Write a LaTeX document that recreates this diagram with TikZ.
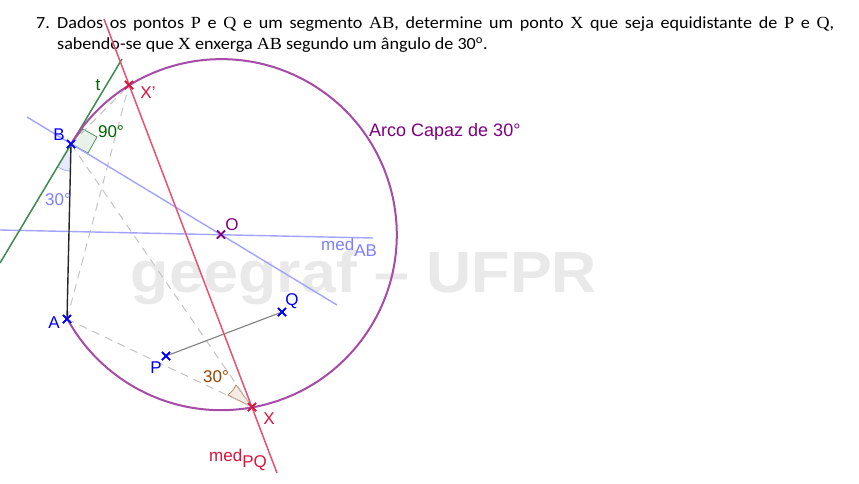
\documentclass[tikz,border=0pt]{standalone}
\usepackage{fontspec}
\setmainfont{Liberation Sans}
\newfontfamily\titlefont{Carlito}
\newfontfamily\mathserif{Liberation Serif}
\usetikzlibrary{shapes.misc}
\definecolor{redline}{HTML}{E9526F}
\definecolor{redmark}{HTML}{DC143C}
\definecolor{purplearc}{HTML}{A64CA6}
\definecolor{purplemark}{HTML}{800080}
\definecolor{greenline}{HTML}{3E8A4E}
\definecolor{greentext}{HTML}{006400}
\definecolor{medblue}{HTML}{A3A3FF}
\definecolor{medtext}{HTML}{7F7FFF}
\definecolor{ptblue}{HTML}{0000FF}
\definecolor{dashgray}{HTML}{C4C4C4}
\definecolor{brownang}{HTML}{994400}
\definecolor{wmark}{HTML}{E9E9E9}
\newcommand{\ms}[1]{{\mathserif #1}}
\tikzset{
  pt/.style={cross out,draw=#1,line width=1.5pt,minimum size=8pt,inner sep=0pt,outer sep=0pt},
  lab/.style={font=\fontsize{17}{19}\selectfont,inner sep=0pt,anchor=center},
  ttlfont/.style={font=\titlefont\fontsize{17}{22}\selectfont,inner sep=0pt,anchor=base west,xscale=1.065},
  redl/.style={draw=redline,line width=1.5pt},
  medl/.style={draw=medblue,line width=1.4pt},
  tanl/.style={draw=greenline,line width=1.5pt},
  dashl/.style={draw=dashgray,line width=1pt,dash pattern=on 8pt off 6pt},
  arcl/.style={draw=purplearc,line width=2pt},
}
\begin{document}
\begin{tikzpicture}[x=1pt,y=-1pt]
\useasboundingbox (0,0) rectangle (859,483);
\fill[white] (0,0) rectangle (859,483);
% watermark
\node[font=\bfseries\fontsize{58}{60}\selectfont,text=wmark,anchor=base,xscale=1.08,inner sep=0pt] (wm) at (364,292) {geegraf -- UFPR};
% title
\node[ttlfont] (num) at (36,28) {7.};
\node[ttlfont] (ttl) at (57,28) {\makebox[729.6pt][s]{Dados os pontos \ms{P} e \ms{Q} e um segmento \ms{AB}, determine um ponto \ms{X} que seja equidistante de \ms{P} e \ms{Q},}};
\node[ttlfont] (ttlb) at (57,49.5) {sabendo-se que \ms{X} enxerga \ms{AB} segundo um ângulo de 30\textsuperscript{o}.};
% points
\coordinate (rtop) at (104,19);
\coordinate (rbot) at (277,473);
\coordinate (ttop) at (122,59);
\coordinate (tbot) at (0,263);
\coordinate (mabl) at (27,117);
\coordinate (mabr) at (337,305);
\coordinate (hl) at (0,230);
\coordinate (hr) at (373,238);
\coordinate (ra) at (83,129);
\coordinate (rb) at (97,137);
\coordinate (rc) at (88,153);
\coordinate (ba) at (58,167);
\coordinate (bb) at (70,171);
\coordinate (xa) at (228,395);
\coordinate (xb) at (236,385);
% angle sectors
\path[fill=greenline!12,draw=greenline,line width=.7pt] (71,144) -- (ra) -- (rb) -- (rc) -- cycle;
\path[fill=medblue!25] (71,144) -- (ba) to[bend right=15] (bb) -- cycle;
\draw[medblue,line width=.7pt] (ba) to[bend right=15] (bb);
\path[fill=brownang!10,draw=brownang!65,line width=.7pt] (252,407) -- (xa) to[bend right=12] (xb) -- cycle;
% node marks
\node[pt=ptblue] (A) at (67,319) {};
\node[pt=ptblue] (B) at (71,144) {};
\node[pt=ptblue] (P) at (166,356) {};
\node[pt=ptblue] (Q) at (282,312) {};
\node[pt=redmark] (X) at (252,407) {};
\node[pt=redmark] (Xp) at (129,85) {};
\node[pt=purplemark] (O) at (221,234.5) {};
% lines
\draw[dashl] (A.center) -- (X.center);
\draw[dashl] (B.center) -- (X.center);
\draw[dashl] (A.center) -- (Xp.center);
\draw[dashl] (B.center) -- (Xp.center);
\draw[medl] (hl) -- (hr);
\draw[medl] (mabl) -- (mabr);
\draw[draw=black!85,line width=1.4pt] (A.center) -- (B.center);
\draw[draw=gray,line width=1.1pt] (P.center) -- (Q.center);
\draw[tanl] (tbot) -- (ttop);
\draw[arcl] (B.center) arc[start angle=148.9,end angle=-151.25,radius=175.5pt];
\draw[redl] (rtop) -- (rbot);
% redraw marks on top
\node[pt=ptblue] at (A) {};
\node[pt=ptblue] at (B) {};
\node[pt=ptblue] at (P) {};
\node[pt=ptblue] at (Q) {};
\node[pt=redmark] at (X) {};
\node[pt=redmark] at (Xp) {};
\node[pt=purplemark] at (O) {};
% labels
\node[lab,text=ptblue] (lA) at (54,323) {A};
\node[lab,text=ptblue] (lB) at (59,135) {B};
\node[lab,text=ptblue] (lP) at (156,368) {P};
\node[lab,text=ptblue] (lQ) at (292,301) {Q};
\node[lab,text=redmark] (lX) at (269,419) {X};
\node[lab,text=redmark] (lXp) at (148,93) {X'};
\node[lab,text=purplemark] (lO) at (232,225) {O};
\node[lab,text=greentext] (lt) at (98,85) {t};
\node[lab,text=greentext] (l90) at (111,132) {90°};
\node[lab,text=medtext] (l30b) at (58,200) {30°};
\node[lab,text=brownang] (l30x) at (216,377) {30°};
\node[lab,font=\fontsize{18}{20}\selectfont,text=purplemark,anchor=west] (larc) at (369,131.5) {Arco Capaz de 30°};
\node[lab,text=medtext,anchor=west] (lmab) at (321,247) {med\raisebox{-6pt}{AB}};
\node[lab,text=redmark,anchor=west] (lmpq) at (209,460) {med\raisebox{-6pt}{PQ}};
\end{tikzpicture}
\end{document}
